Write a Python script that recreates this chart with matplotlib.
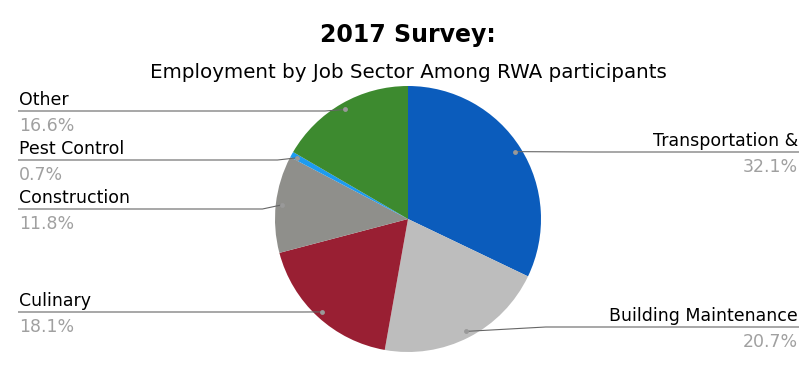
import numpy as np
import matplotlib
matplotlib.use("Agg")
import matplotlib.pyplot as plt

labels = ["Transportation &", "Building Maintenance", "Culinary",
          "Construction", "Pest Control", "Other"]
shares = [32.1, 20.7, 18.1, 11.8, 0.7, 16.6]
colors = ["#0b5cbc", "#bdbdbd", "#991f33", "#8f8f8b", "#1d9bf0", "#3d8a2f"]

# where each label's underline sits (pixels from top) and which side
label_y = [152, 327, 312, 209, 160, 111]
label_side = ["R", "R", "L", "L", "L", "L"]

W, H = 799, 371
fig = plt.figure(figsize=(W / 100, H / 100), dpi=100)
ax = fig.add_axes([0, 0, 1, 1])

cx, cy, R = 408, H - 219, 133
wedges, _ = ax.pie(shares, colors=colors, startangle=90, counterclock=False,
                   center=(cx, cy), radius=R,
                   wedgeprops=dict(linewidth=0))
ax.set_xlim(0, W)
ax.set_ylim(0, H)
ax.set_aspect("auto")
ax.axis("off")

for w, lab, val, ly, side in zip(wedges, labels, shares, label_y, label_side):
    ang = np.deg2rad((w.theta1 + w.theta2) / 2)
    dx = cx + 0.95 * R * np.cos(ang)
    dy = cy + 0.95 * R * np.sin(ang)
    yl = H - ly
    if side == "L":
        xs = [18, dx - 20, dx]
        tx, ha = 19, "left"
    else:
        xs = [W, dx + 80, dx]
        tx, ha = W - 1, "right"
    ys = [yl, yl, dy]
    ax.plot(xs, ys, color="#666666", lw=0.8, solid_capstyle="butt")
    ax.plot(dx, dy, "o", ms=3.5, color="#999999", mec="none")
    ax.text(tx, yl + 2, lab, ha=ha, va="bottom", fontsize=12.5, color="black")
    ax.text(tx, yl - 6, f"{val}%", ha=ha, va="top", fontsize=12.5, color="#a0a0a0")

fig.text(408 / W, 1 - 35 / H, "2017 Survey:", ha="center", va="center",
         fontsize=17, fontweight="bold")
fig.text(408 / W, 1 - 72 / H, "Employment by Job Sector Among RWA participants",
         ha="center", va="center", fontsize=14.3)

fig.savefig("out.png", dpi=100)
